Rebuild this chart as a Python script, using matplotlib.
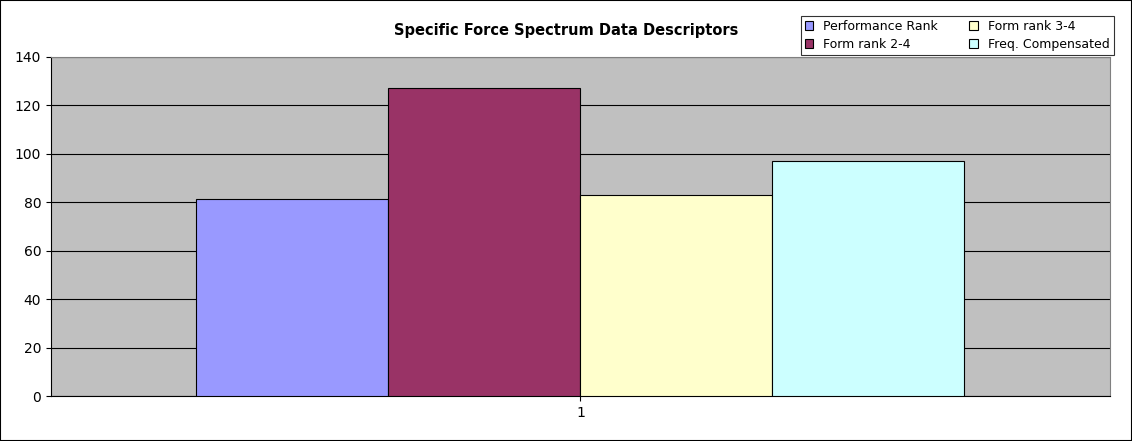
import numpy as np
import matplotlib.pyplot as plt
from matplotlib.patches import Rectangle

series = ["Performance Rank", "Form rank 2-4", "Form rank 3-4", "Freq. Compensated"]
values = [81.5, 127, 83, 97]
colors = ["#9999ff", "#993366", "#ffffcc", "#ccffff"]
category = "1"

fig = plt.figure(figsize=(11.32, 4.41), dpi=100)
fig.patches.append(Rectangle((0, 0), 1, 1, transform=fig.transFigure,
                             fill=False, edgecolor="black", linewidth=1.5))
ax = fig.add_axes([0.045, 0.102, 0.9355, 0.769])
ax.set_facecolor("#c0c0c0")

w = 0.1813
offsets = (np.arange(len(values)) - 1.5) * w
for off, v, c, lab in zip(offsets, values, colors, series):
    ax.bar(off, v, width=w, color=c, edgecolor="black", linewidth=0.8, label=lab, zorder=3)

ax.set_xlim(-0.5, 0.5)
ax.set_ylim(0, 140)
ax.set_yticks(range(0, 141, 20))
ax.set_xticks([0])
ax.set_xticklabels([category])
ax.yaxis.grid(True, color="black", linewidth=0.8, zorder=0)
ax.tick_params(labelsize=10)
for s in ["top", "right"]:
    ax.spines[s].set_color("#808080")

fig.text(0.5, 0.93, "Specific Force Spectrum Data Descriptors", ha="center",
         va="center", fontsize=10.5, fontweight="bold")

leg = fig.legend(loc="upper left", bbox_to_anchor=(0.702, 0.977), ncol=2,
                 fontsize=9, frameon=True, fancybox=False, edgecolor="black",
                 handlelength=0.7, handleheight=0.7, columnspacing=2.5,
                 borderpad=0.3, labelspacing=0.4)
leg.get_frame().set_linewidth(0.8)

fig.savefig("out.png", dpi=100)
